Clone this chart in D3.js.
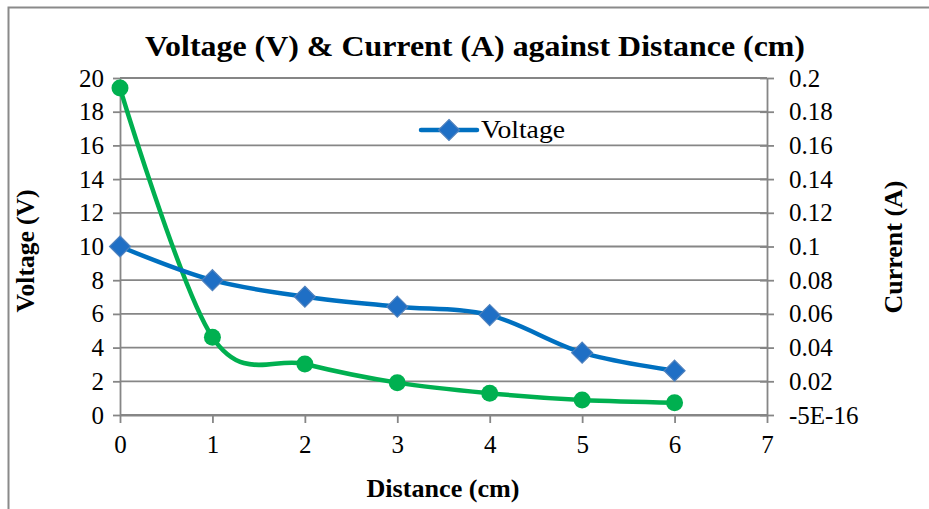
<!DOCTYPE html>
<html><head><meta charset="utf-8">
<script src="https://cdn.jsdelivr.net/npm/d3@7"></script>
<style>body{margin:0;background:#fff}svg{display:block}</style>
</head><body>
<svg id="c" width="929" height="509"></svg>
<script>
const distance = [0, 1, 2, 3, 4, 5, 6];
const voltage = [10, 8, 7.02, 6.43, 5.93, 3.7, 2.63];
const current = [0.194, 0.0462, 0.0303, 0.0192, 0.0129, 0.0089, 0.0073];
const xTicks = [0, 1, 2, 3, 4, 5, 6, 7];
const leftTicks = [0, 2, 4, 6, 8, 10, 12, 14, 16, 18, 20];
const rightTicks = [0, 0.02, 0.04, 0.06, 0.08, 0.1, 0.12, 0.14, 0.16, 0.18, 0.2];
const rightTickLabels = ["-5E-16", "0.02", "0.04", "0.06", "0.08", "0.1", "0.12", "0.14", "0.16", "0.18", "0.2"];

const svg = d3.select("#c");
const font = "'Liberation Serif','Times New Roman',serif";
const L = 120, R = 767, T = 78, B = 415;
const x = d3.scaleLinear().domain([0, 7]).range([L, R]);
const yL = d3.scaleLinear().domain([0, 20]).range([B, T]);
const yR = d3.scaleLinear().domain([0, 0.2]).range([B, T]);
const grid = "#868686";

// outer border
svg.append("path").attr("d", "M8.5,509 V7.5 H929").attr("fill", "none").attr("stroke", "#8a8a8a").attr("stroke-width", 2);

// gridlines
svg.append("g").selectAll("line").data(leftTicks).join("line")
  .attr("x1", L).attr("x2", R).attr("y1", d => yL(d)).attr("y2", d => yL(d))
  .attr("stroke", grid).attr("stroke-width", 1.8);

// left axis
const gl = svg.append("g").attr("transform", `translate(${L},0)`)
  .call(d3.axisLeft(yL).tickValues(leftTicks).tickSize(7).tickPadding(5).tickSizeOuter(0));
// right axis
const gr = svg.append("g").attr("transform", `translate(${R},0)`)
  .call(d3.axisRight(yR).tickValues(rightTicks).tickFormat((d, i) => rightTickLabels[i]).tickSize(7).tickPadding(15).tickSizeOuter(0));
gr.selectAll(".tick line").attr("x1", -7);
// x axis
const gx = svg.append("g").attr("transform", `translate(0,${B})`)
  .call(d3.axisBottom(x).tickValues(xTicks).tickFormat(d3.format("d")).tickSize(8).tickPadding(12).tickSizeOuter(0));

[gl, gr, gx].forEach(g => {
  g.select(".domain").attr("stroke", grid).attr("stroke-width", 1.8);
  g.selectAll(".tick line").attr("stroke", grid).attr("stroke-width", 1.8);
  g.selectAll(".tick text").attr("font-family", font).attr("font-size", 25).attr("fill", "#000");
});
gl.selectAll(".tick text").attr("dx", -4);

// titles
svg.append("text").attr("x", 475).attr("y", 56).attr("text-anchor", "middle")
  .attr("font-family", font).attr("font-weight", "bold").attr("font-size", 30)
  .attr("textLength", 660).attr("lengthAdjust", "spacingAndGlyphs")
  .text("Voltage (V) & Current (A) against Distance (cm)");
svg.append("text").attr("x", 443).attr("y", 497).attr("text-anchor", "middle")
  .attr("font-family", font).attr("font-weight", "bold").attr("font-size", 25)
  .attr("textLength", 153).attr("lengthAdjust", "spacingAndGlyphs").text("Distance (cm)");
svg.append("text").attr("transform", "translate(34,251) rotate(-90)").attr("text-anchor", "middle")
  .attr("font-family", font).attr("font-weight", "bold").attr("font-size", 25)
  .attr("textLength", 123).attr("lengthAdjust", "spacingAndGlyphs").text("Voltage (V)");
svg.append("text").attr("transform", "translate(902,247) rotate(-90)").attr("text-anchor", "middle")
  .attr("font-family", font).attr("font-weight", "bold").attr("font-size", 25)
  .attr("textLength", 133).attr("lengthAdjust", "spacingAndGlyphs").text("Current (A)");

const curve = d3.curveCardinal.tension(0);
const blue = "#0070C0", green = "#00B050";

// current series
const cData = distance.map((d, i) => [d, current[i]]);
svg.append("path").datum(cData)
  .attr("d", d3.line().x(d => x(d[0])).y(d => yR(d[1])).curve(curve))
  .attr("fill", "none").attr("stroke", green).attr("stroke-width", 4.5).attr("stroke-linejoin", "round");
svg.append("g").selectAll("circle").data(cData).join("circle")
  .attr("cx", d => x(d[0])).attr("cy", d => yR(d[1])).attr("r", 8.5).attr("fill", green);

// voltage series
const vData = distance.map((d, i) => [d, voltage[i]]);
svg.append("path").datum(vData)
  .attr("d", d3.line().x(d => x(d[0])).y(d => yL(d[1])).curve(curve))
  .attr("fill", "none").attr("stroke", blue).attr("stroke-width", 4.5).attr("stroke-linejoin", "round");
const diamond = d3.symbol().type(d3.symbolDiamond2).size(280);
svg.append("g").selectAll("path").data(vData).join("path")
  .attr("transform", d => `translate(${x(d[0])},${yL(d[1])})`)
  .attr("d", diamond).attr("fill", "#1F6FC5").attr("stroke", "#4F81BD").attr("stroke-width", 1.2);

// legend
const lg = svg.append("g");
lg.append("line").attr("x1", 421).attr("x2", 477).attr("y1", 130).attr("y2", 130)
  .attr("stroke", blue).attr("stroke-width", 4.5).attr("stroke-linecap", "round");
lg.append("path").attr("transform", "translate(449,130)").attr("d", diamond)
  .attr("fill", "#1F6FC5").attr("stroke", "#4F81BD").attr("stroke-width", 1.2);
lg.append("text").attr("x", 481).attr("y", 138).attr("font-family", font).attr("font-size", 25)
  .attr("textLength", 84).attr("lengthAdjust", "spacingAndGlyphs").text("Voltage");
</script>
</body></html>
